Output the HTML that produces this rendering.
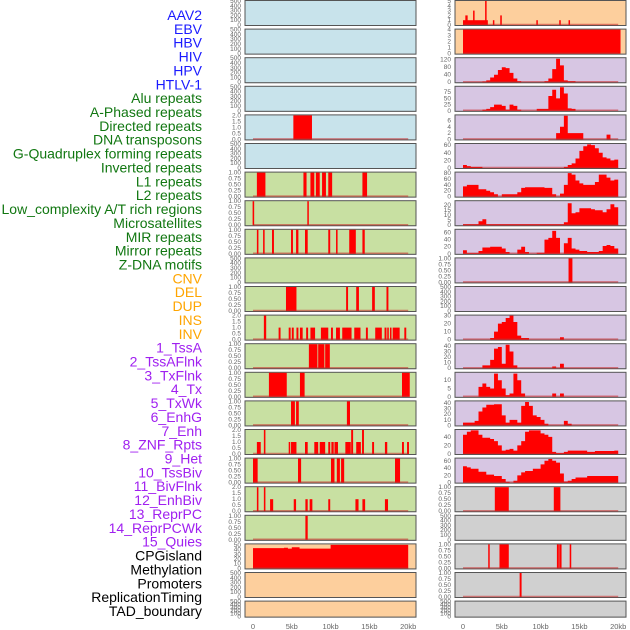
<!DOCTYPE html>
<html><head><meta charset="utf-8">
<style>
html,body{margin:0;padding:0;background:#fff;width:630px;height:630px;overflow:hidden}
svg{display:block;font-family:"Liberation Sans",sans-serif}
</style></head>
<body>
<svg id="chart" width="630" height="630"></svg>
<script>
// ---------- data ----------
const labelNames = ["AAV2","EBV","HBV","HIV","HPV","HTLV-1","Alu repeats","A-Phased repeats","Directed repeats","DNA transposons","G-Quadruplex forming repeats","Inverted repeats","L1 repeats","L2 repeats","Low_complexity A/T rich regions","Microsatellites","MIR repeats","Mirror repeats","Z-DNA motifs","CNV","DEL","DUP","INS","INV","1_TssA","2_TssAFlnk","3_TxFlnk","4_Tx","5_TxWk","6_EnhG","7_Enh","8_ZNF_Rpts","9_Het","10_TssBiv","11_BivFlnk","12_EnhBiv","13_ReprPC","14_ReprPCWk","15_Quies","CPGisland","Methylation","Promoters","ReplicationTiming","TAD_boundary"];
const labelGroups = ["virus","virus","virus","virus","virus","virus","repeat","repeat","repeat","repeat","repeat","repeat","repeat","repeat","repeat","repeat","repeat","repeat","repeat","sv","sv","sv","sv","sv","chrom","chrom","chrom","chrom","chrom","chrom","chrom","chrom","chrom","chrom","chrom","chrom","chrom","chrom","chrom","other","other","other","other","other"];
const xTickValues = [0,5,10,15,20];
const xTickLabels = ["0","5kb","10kb","15kb","20kb"];

// bar tracks: [startKb, endKb, height]
const barsHPV = [[5.2,7.6,2]];
const barsAlu = [[0.5,1.6,1],[6.5,6.9,1],[7.4,7.9,1],[8.1,8.6,1],[8.9,9.4,1],[9.7,10.2,1],[14.1,14.7,1]];
const barsAPhased = [[-0.05,0.15,1],[7.0,7.15,1]];
const barsDirected = [[0.5,0.7,1],[1.3,1.5,1],[2.45,2.7,1],[4.9,5.15,1],[5.55,5.85,1],[6.7,7.05,1],[9.7,9.95,1],[10.7,10.9,1],[12.4,13.25,1],[14.1,14.4,1]];
const barsGQuad = [[4.25,5.6,1],[12.0,12.25,1],[13.3,13.65,1],[15.35,15.7,1],[17.2,17.45,1]];
const barsInverted = [[1.4,1.7,2],[3.3,3.55,1],[4.6,4.85,1],[5.0,5.25,1],[5.6,5.85,1],[6.05,6.4,1],[6.85,7.1,1],[7.4,8.0,1],[8.75,9.7,1],[10.05,10.3,1],[10.7,11.2,1],[11.5,12.7,1],[13.05,13.85,1],[14.55,14.8,1],[15.75,16.6,1],[16.95,17.2,1],[17.3,17.5,1],[17.65,17.85,1],[18.0,18.9,1],[19.5,19.75,1]];
const barsL1 = [[7.2,8.3,1],[8.4,9.2,1],[9.3,9.9,1]];
const barsL2 = [[2.05,4.35,1],[6.05,6.65,1],[19.2,20.2,1]];
const barsLowComplexity = [[4.9,5.4,1],[5.55,5.9,1],[12.1,12.5,1]];
const barsMicrosat = [[0.5,1.0,1],[1.4,1.6,2],[4.6,4.8,1],[4.9,5.6,1],[6.7,7.05,1],[7.9,8.4,1],[8.6,9.3,1],[9.7,9.95,1],[10.1,10.4,1],[10.5,10.95,1],[11.9,12.6,1],[12.65,12.9,2],[13.3,13.9,1],[14.05,14.3,2],[15.35,15.6,1],[17.0,17.3,1],[19.2,19.45,1],[19.85,20.1,1]];
const barsMIR = [[0,0.6,1],[5.8,6.2,1],[10.05,10.5,1],[10.8,11.2,1],[11.35,11.75,1],[18.3,18.95,1]];
const barsMirror = [[0.5,0.7,2],[1.4,1.6,2],[2.2,2.6,1],[5.25,5.55,1],[6.75,7.05,1],[7.3,7.65,1],[9.7,9.95,1],[13.2,13.6,1],[14.1,14.45,1],[17.0,17.4,1]];
const barsZDNA = [[6.75,7.05,1]];
const barsDEL = [[0,3.2,1],[0.3,0.6,2],[1.3,1.45,3],[2.85,3.0,5],[3.85,4.0,1],[4.8,5.0,2],[9.45,9.6,1],[12.4,12.6,1],[13.6,13.75,1]];
const barsDUP = [[0,20.3,4]];
const barsZNF = [[13.6,14.1,1]];
const barsCPG = [[4.1,5.9,1],[11.7,12.55,1]];
const barsPromoters = [[3.25,3.4,1],[4.7,5.9,1],[12.1,12.35,1],[12.4,12.7,1],[13.75,13.95,1]];
const barsRepTiming = [[7.3,7.55,1]];

// area tracks: values per 0.5kb bin from 0 to 20kb (40 bins)
const areaCNV = [43,43,43,43,43,43,43,43,44,42,45,45,42,42,42,42,42,42,42,42,50,50,50,50,50,50,50,50,50,50,50,50,50,50,50,50,50,50,50,50];
const areaTssA = [0,0,0,0,0,3,10,25,40,65,80,75,50,20,5,0,0,0,0,0,0,5,20,70,125,90,10,5,5,0,0,0,0,0,0,0,0,0,0,0];
const areaTssAFlnk = [0,0,0,0,0,5,8,15,25,25,20,5,25,20,5,0,0,0,0,8,8,8,60,85,50,95,70,10,8,0,0,0,0,0,0,0,0,0,0,0];
const areaTxFlnk = [0,0,0,0,0,0,0,0,0,0,0,0,0,0,0,0,0,0,0,0,0,0,0,0,2,4,7.5,2,2,2,2,0,0,0,0,0,0,1.5,0,0];
const areaTx = [8,5,3,3,3,0,0,0,0,0,0,0,0,0,0,0,0,0,0,0,0,0,0,0,0,0,3,8,12,25,45,57,62,60,52,40,28,25,20,22];
const areaTxWk = [35,40,40,40,25,25,20,15,8,0,8,8,8,8,15,30,32,32,32,32,32,30,30,8,0,10,40,80,75,55,45,40,40,40,50,75,75,65,55,58];
const areaEnhG = [1,1,1,1,4,6,1,1,1,1,1,1,1,1,1,1,1,1,1,1,1,1,1,1,1,1,3,22,12,13,17,17,17,16,15,15,13,16,21,18];
const areaEnh = [10,2,2,2,8,18,18,20,20,20,15,5,0,0,12,20,5,0,0,3,3,40,45,65,45,0,30,45,15,12,8,8,5,5,5,8,22,25,22,15];
const areaTssBiv = [0,0,0,0,0,0,0,2,10,20,22,27,30,22,5,2,2,0,0,0,0,0,0,0,0,3,0,0,0,0,0,0,0,0,0,0,0,0,0,0];
const areaBivFlnk = [0,0,0,0,0,5,5,15,35,38,8,42,30,5,0,0,0,0,0,0,0,0,0,3,0,8,0,0,0,0,0,0,0,0,0,0,0,0,0,0];
const areaEnhBiv = [0,0,0,0,6,8,6,5,14,10,5,1,2,14,10,2,0,0,0,0,0,0,0,2,0,2,0,0,0,0,0,0,0,0,0,0,0,0,0,0];
const areaReprPC = [5,5,5,8,25,32,37,37,38,38,18,5,10,10,5,35,42,35,18,15,10,3,0,0,0,0,8,3,0,0,0,0,0,0,0,0,0,0,0,0];
const areaReprPCWk = [45,52,55,55,45,38,38,35,30,20,8,10,12,8,20,30,52,55,55,55,48,45,40,5,2,2,5,8,8,8,8,8,5,5,7,7,7,7,7,8];
const areaQuies = [45,42,38,38,30,30,22,22,18,18,10,2,0,5,20,28,32,32,38,38,50,60,65,60,55,25,3,5,10,14,14,14,18,18,18,18,18,18,18,18];

// tick label sets
const ticks500 = ["0","100","200","300","400","500"];
const ticks1 = ["0.00","0.25","0.50","0.75","1.00"];
const ticks2 = ["0.0","0.5","1.0","1.5","2.0"];

const colBg = {virus:"#c8e3eb",repeat:"#c8e0a2",sv:"#fdcf9d",chrom:"#d7c6e3",other:"#d0d0d0"};
const labelColor = {virus:"#1a1aff",repeat:"#117711",sv:"#ffa500",chrom:"#a020f0",other:"#000000"};

// panel definitions: [col,row,name,group,kind,data,ymax,tickVals,tickLabels]
const panels = [
 [0,0,"aav2","virus",null,null,500,[0,100,200,300,400,500],ticks500],
 [0,1,"ebv","virus",null,null,500,[0,100,200,300,400,500],ticks500],
 [0,2,"hbv","virus",null,null,500,[0,100,200,300,400,500],ticks500],
 [0,3,"hiv","virus",null,null,500,[0,100,200,300,400,500],ticks500],
 [0,4,"hpv","virus","bars",barsHPV,2,[0,0.5,1,1.5,2],ticks2],
 [0,5,"htlv1","virus",null,null,500,[0,100,200,300,400,500],ticks500],
 [0,6,"alu","repeat","bars",barsAlu,1,[0,.25,.5,.75,1],ticks1],
 [0,7,"a-phased","repeat","bars",barsAPhased,1,[0,.25,.5,.75,1],ticks1],
 [0,8,"directed","repeat","bars",barsDirected,1,[0,.25,.5,.75,1],ticks1],
 [0,9,"dna-transposons","repeat",null,null,500,[0,100,200,300,400,500],ticks500],
 [0,10,"g-quadruplex","repeat","bars",barsGQuad,1,[0,.25,.5,.75,1],ticks1],
 [0,11,"inverted","repeat","bars",barsInverted,2,[0,0.5,1,1.5,2],ticks2],
 [0,12,"l1","repeat","bars",barsL1,1,[0,.25,.5,.75,1],ticks1],
 [0,13,"l2","repeat","bars",barsL2,1,[0,.25,.5,.75,1],ticks1],
 [0,14,"low-complexity","repeat","bars",barsLowComplexity,1,[0,.25,.5,.75,1],ticks1],
 [0,15,"microsatellites","repeat","bars",barsMicrosat,2,[0,0.5,1,1.5,2],ticks2],
 [0,16,"mir","repeat","bars",barsMIR,1,[0,.25,.5,.75,1],ticks1],
 [0,17,"mirror","repeat","bars",barsMirror,2,[0,0.5,1,1.5,2],ticks2],
 [0,18,"z-dna","repeat","bars",barsZDNA,1,[0,.25,.5,.75,1],ticks1],
 [0,19,"cnv","sv","area",areaCNV,51,[0,10,20,30,40,50],["0","10","20","30","40","50"]],
 [0,20,"del-left","sv",null,null,500,[0,100,200,300,400,500],ticks500],
 [0,21,"dup-left","sv",null,null,500,[0,100,200,300,400,500],ticks500],
 [1,0,"ins","sv","bars",barsDEL,5,[0,1,2,3,4,5],["0","1","2","3","4","5"]],
 [1,1,"inv","sv","bars",barsDUP,4,[0,1,2,3,4],["0","1","2","3","4"]],
 [1,2,"tssa","chrom","area",areaTssA,128,[0,40,80,120],["0","40","80","120"]],
 [1,3,"tssaflnk","chrom","area",areaTssAFlnk,97,[0,25,50,75],["0","25","50","75"]],
 [1,4,"txflnk","chrom","area",areaTxFlnk,7.6,[0,2,4,6],["0","2","4","6"]],
 [1,5,"tx","chrom","area",areaTx,63,[0,20,40,60],["0","20","40","60"]],
 [1,6,"txwk","chrom","area",areaTxWk,82,[0,20,40,60,80],["0","20","40","60","80"]],
 [1,7,"enhg","chrom","area",areaEnhG,24,[0,5,10,15,20],["0","5","10","15","20"]],
 [1,8,"enh","chrom","area",areaEnh,68,[0,20,40,60],["0","20","40","60"]],
 [1,9,"znf","chrom","bars",barsZNF,1,[0,.25,.5,.75,1],ticks1],
 [1,10,"het","chrom",null,null,500,[0,100,200,300,400,500],ticks500],
 [1,11,"tssbiv","chrom","area",areaTssBiv,30,[0,10,20,30],["0","10","20","30"]],
 [1,12,"bivflnk","chrom","area",areaBivFlnk,43,[0,10,20,30,40],["0","10","20","30","40"]],
 [1,13,"enhbiv","chrom","area",areaEnhBiv,14.5,[0,5,10],["0","5","10"]],
 [1,14,"reprpc","chrom","area",areaReprPC,43,[0,10,20,30,40],["0","10","20","30","40"]],
 [1,15,"reprpcwk","chrom","area",areaReprPCWk,56,[0,20,40],["0","20","40"]],
 [1,16,"quies","chrom","area",areaQuies,66,[0,20,40,60],["0","20","40","60"]],
 [1,17,"cpgisland","other","bars",barsCPG,1,[0,.25,.5,.75,1],ticks1],
 [1,18,"methylation","other",null,null,500,[0,100,200,300,400,500],ticks500],
 [1,19,"promoters","other","bars",barsPromoters,1,[0,.25,.5,.75,1],ticks1],
 [1,20,"replication-timing","other","bars",barsRepTiming,1,[0,.25,.5,.75,1],ticks1],
 [1,21,"tad-boundary","other",null,null,500,[0,100,200,300,400,500],ticks500]
];

// ---------- drawing ----------
const NS = "http://www.w3.org/2000/svg";
const svg = document.getElementById("chart");
function mk(tag, attrs, parent){const e=document.createElementNS(NS,tag);for(const k in attrs)e.setAttribute(k,attrs[k]);(parent||svg).appendChild(e);return e;}

const colLeft=[245,455], colW=171, colZero=[253,463], kbPx=7.76;
function xScale(col,kb){return colZero[col]+kb*kbPx;}
function rowTop(r){return 0.5+r*28.6;}
function rowH(r){return r===21?16:25;}

// labels
labelNames.forEach((t,i)=>{
  const el=mk("text",{x:202,y:20+i*13.86,"text-anchor":"end","font-size":"14",fill:labelColor[labelGroups[i]]});
  el.textContent=t;
  
  
});

panels.forEach(p=>{
  const [col,row,name,group,kind,data,ymax,tv,tl]=p;
  const x0=colLeft[col], y0=rowTop(row), h=rowH(row);
  const g=mk("g",{});
  
  
  mk("rect",{x:x0+0.5,y:y0+0.5,width:colW,height:h,fill:"#9a9a9a"},g);
  const bg=mk("rect",{x:x0,y:y0,width:colW,height:h,fill:colBg[group],stroke:"#555",  "stroke-width":1},g);
  
  
  const yS=v=>y0+h-0.5-(v/ymax)*(h-1);
  // y ticks
  tv.forEach((v,i)=>{
    const t=mk("text",{x:x0-4,y:yS(v)+2,"text-anchor":"end","font-size":"6.5",fill:"#666"},g);
    t.textContent=tl[i];
    
    
  });
  if(!kind) return;
  if(kind==="bars"){
    data.forEach(b=>{
      const xa=xScale(col,b[0]), xb=xScale(col,b[1]);
      const r=mk("rect",{x:xa,y:yS(b[2]),width:Math.max(1.5,xb-xa),height:yS(0)-yS(b[2]),fill:"#ff0000"},g);
      
      
    });
  } else {
    let d="M"+xScale(col,0)+","+yS(0);
    data.forEach((v,i)=>{
      d+=" L"+xScale(col,i*0.5)+","+yS(v)+" L"+xScale(col,(i+1)*0.5)+","+yS(v);
    });
    d+=" L"+xScale(col,20)+","+yS(0)+" Z";
    const a=mk("path",{d:d,fill:"#ff0000"},g);
    
    
  }
  const bl=mk("line",{x1:xScale(col,0),x2:xScale(col,20),y1:yS(0)-0.5,y2:yS(0)-0.5,stroke:"rgba(200,40,40,0.55)","stroke-width":1.5},g);
  
  
});

// x axes
[0,1].forEach(col=>{
  xTickValues.forEach((v,i)=>{
    const t=mk("text",{x:xScale(col,v),y:629,"text-anchor":"middle","font-size":"7.5",fill:"#666"});
    t.textContent=xTickLabels[i];
    
    
  });
});
</script>
</body></html>
